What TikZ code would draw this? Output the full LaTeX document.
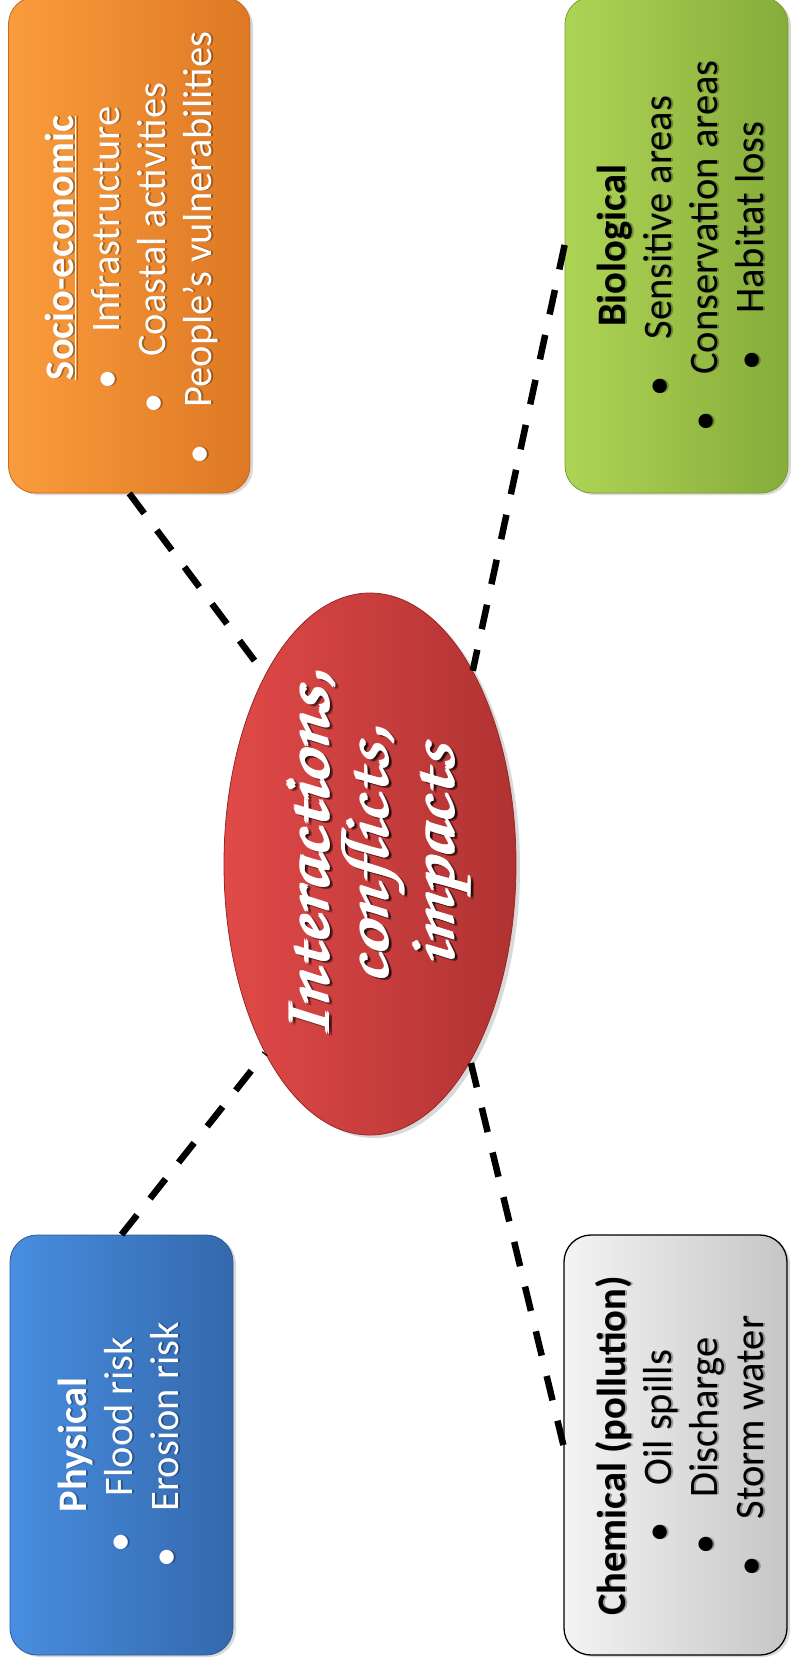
\documentclass[tikz,border=0pt]{standalone}
\usepackage{fontspec}
\setmainfont{Carlito}
\usetikzlibrary{shadows,shapes.geometric}
\definecolor{orL}{RGB}{250,156,60}
\definecolor{orR}{RGB}{222,120,36}
\definecolor{orE}{RGB}{200,105,30}
\definecolor{grL}{RGB}{174,212,86}
\definecolor{grR}{RGB}{134,172,58}
\definecolor{grE}{RGB}{120,155,50}
\definecolor{blL}{RGB}{72,142,224}
\definecolor{blR}{RGB}{52,104,172}
\definecolor{blE}{RGB}{45,90,150}
\definecolor{gyL}{RGB}{244,244,244}
\definecolor{gyR}{RGB}{198,198,198}
\definecolor{rdL}{RGB}{224,74,72}
\definecolor{rdR}{RGB}{176,50,50}
\definecolor{rdE}{RGB}{150,40,40}
\newcommand\itm[1]{\makebox[1.4em][l]{\textbullet}#1}
\newcommand\scr{\usefont{OT1}{pzc}{mb}{it}}
\newcommand\fbold[1]{\scalebox{1.22}[1]{\rlap{#1}\rlap{\hspace{1.8pt}#1}\rlap{\raisebox{1.6pt}{#1}}\hspace{1.8pt}\raisebox{1.6pt}{#1}}}
\begin{document}
\begin{tikzpicture}[x=1pt,y=-1pt,
  box/.style={rounded corners=27pt, inner sep=0pt, draw=#1, line width=0.8pt,
    drop shadow={opacity=0.3, shadow xshift=3pt, shadow yshift=-2pt}},
  txt/.style={rotate=90, align=center, inner sep=0pt, font=\fontsize{40.5}{46}\selectfont},
  txtshadow/.style={txt, text=black, text opacity=0.3},
  scrtxt/.style={rotate=90, align=center, inner sep=0pt, font=\scr\fontsize{67}{54}\selectfont},
  link/.style={line width=6.5pt, dash pattern=on 25pt off 21pt}]
\useasboundingbox (0,0) rectangle (790,1667);
% boxes
\node[box=orE, minimum width=241.5pt, minimum height=496pt, left color=orL, right color=orR] (orange) at (129.25,245) {};
\node[box=grE, minimum width=223pt, minimum height=496pt, left color=grL, right color=grR] (green) at (676.5,245) {};
\node[box=blE, minimum width=223pt, minimum height=420pt, left color=blL, right color=blR] (blue) at (121.5,1445) {};
\node[box=black, minimum width=223pt, minimum height=420pt, left color=gyL, right color=gyR, line width=1.3pt] (gray) at (675.5,1445) {};
\node[ellipse, inner sep=0pt, minimum width=292pt, minimum height=542pt, draw=rdE, line width=0.8pt,
  left color=rdL, right color=rdR, drop shadow={opacity=0.3, shadow xshift=4pt, shadow yshift=-3pt}] (ell) at (370,864) {};
% connectors
\draw[link] (orange.south) -- (ell.119);
\draw[link] (green.west) -- (ell.62);
\draw[link] (blue.north) -- (ell.241);
\draw[link] (gray.west) -- (ell.297);
% texts
\node[txtshadow] (orangeTs) at (134,248) {\underline{\textbf{Socio-economic}}\\ \itm{Infrastructure}\\ \itm{Coastal activities}\\ \itm{People’s vulnerabilities}};
\node[txt, text=white] (orangeT) at (132,248) {\underline{\textbf{Socio-economic}}\\ \itm{Infrastructure}\\ \itm{Coastal activities}\\ \itm{People’s vulnerabilities}};
\node[txtshadow] (greenTs) at (682,246) {\textbf{Biological}\\ \itm{Sensitive areas}\\ \itm{Conservation areas}\\ \itm{Habitat loss}};
\node[txt, text=black] (greenT) at (680,246) {\textbf{Biological}\\ \itm{Sensitive areas}\\ \itm{Conservation areas}\\ \itm{Habitat loss}};
\node[txtshadow] (blueTs) at (120,1445) {\textbf{Physical}\\ \itm{Flood risk}\\ \itm{Erosion risk}};
\node[txt, text=white] (blueT) at (118,1445) {\textbf{Physical}\\ \itm{Flood risk}\\ \itm{Erosion risk}};
\node[txtshadow] (grayTs) at (682,1446) {\textbf{Chemical (pollution)}\\ \itm{Oil spills}\\ \itm{Discharge}\\ \itm{Storm water}};
\node[txt, text=black] (grayT) at (680,1446) {\textbf{Chemical (pollution)}\\ \itm{Oil spills}\\ \itm{Discharge}\\ \itm{Storm water}};
\node[scrtxt, text=black, text opacity=0.35] (ellTs) at (383,858) {\fbold{Interactions,}\\ \fbold{conflicts,}\\ \fbold{impacts}};
\node[scrtxt, text=white] (ellT) at (380,856) {\fbold{Interactions,}\\ \fbold{conflicts,}\\ \fbold{impacts}};
\end{tikzpicture}
\end{document}
